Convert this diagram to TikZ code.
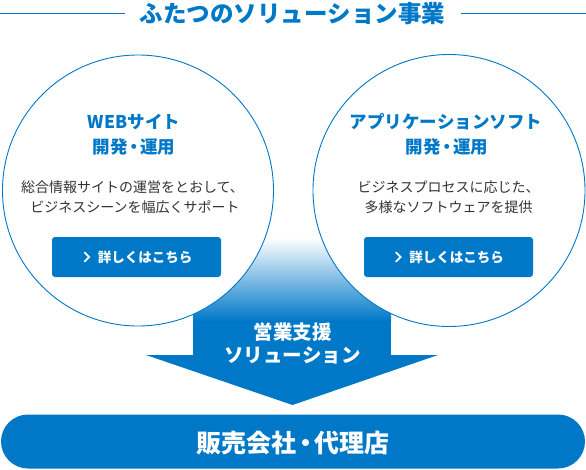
\documentclass[tikz,border=0pt]{standalone}
\usepackage{fontspec}
\setmainfont{Noto Sans CJK JP}
\usetikzlibrary{calc}
\definecolor{mainblue}{RGB}{0,120,200}
\definecolor{bodytext}{RGB}{51,51,51}
\newcommand{\tightdot}{\kern-0.13em・\kern-0.13em}
\tikzset{
  titletext/.style={inner sep=0pt, text=mainblue, font=\fontsize{23.5}{26}\selectfont\bfseries},
  ruleline/.style={draw=mainblue, line width=1pt},
  circlebox/.style={draw=mainblue, line width=0.9pt, fill=white},
  headtext/.style={inner sep=0pt, text=mainblue, font=\fontsize{17.5}{20}\selectfont\bfseries},
  desctext/.style={inner sep=0pt, text=bodytext, font=\fontsize{14}{17}\selectfont},
  buttonbox/.style={fill=mainblue, rounded corners=3pt, minimum width=169pt, minimum height=40pt, inner sep=0pt},
  btntext/.style={inner sep=0pt, text=white, font=\fontsize{13.5}{16}\selectfont\bfseries},
  chevron/.style={draw=white, line width=1.8pt, line cap=round, line join=miter},
  arrowtext/.style={inner sep=0pt, text=white, font=\fontsize{19.5}{22}\selectfont\bfseries},
  barbox/.style={fill=mainblue, rounded corners=27pt, minimum width=584pt, minimum height=54pt, inner sep=0pt},
  bartext/.style={inner sep=0pt, text=white, font=\fontsize{25}{28}\selectfont\bfseries},
}
\begin{document}
\begin{tikzpicture}[x=1pt,y=-1pt]
\useasboundingbox (0,0) rectangle (586,469);
% title
\node[titletext] (title) at (292.5,14) {ふたつのソリューション事業};
\coordinate (ruleLa) at (0,13);
\coordinate (ruleLb) at (125,13);
\coordinate (ruleRa) at (461,13);
\coordinate (ruleRb) at (586,13);
\draw[ruleline] (ruleLa) -- (ruleLb);
\draw[ruleline] (ruleRa) -- (ruleRb);
% arrow shaft with gradient
\shade[top color=white, bottom color=mainblue] (193,238) rectangle (391,321);
\fill[mainblue] (193,320.5) rectangle (391,356);
\coordinate (headL) at (146,355);
\coordinate (headR) at (438,355);
\coordinate (headT) at (292.5,405);
\fill[mainblue] (headL) -- (headR) -- (headT) -- cycle;
% circles
\node[circlebox, circle, minimum size=271pt] (circL) at (138,190.5) {};
\node[circlebox, circle, minimum size=272pt] (circR) at (449,190.5) {};
% left circle content
\node[headtext] (headL1) at (134,122) {WEBサイト};
\node[headtext] (headL2) at (134,147) {開発\tightdot 運用};
\node[desctext] (descL1) at (132.5,187) {総合情報サイトの運営をとおして、};
\node[desctext] (descL2) at (135,207) {ビジネスシーンを幅広くサポート};
\node[buttonbox] (btnL) at (136.5,257) {};
\node[btntext] (btnLt) at (145,257) {詳しくはこちら};
\draw[chevron] ($(btnLt.west)+(-13,-4.5)$) -- ($(btnLt.west)+(-8.5,0)$) -- ($(btnLt.west)+(-13,4.5)$);
% right circle content
\node[headtext] (headR1) at (446,122) {アプリケーションソフト};
\node[headtext] (headR2) at (447,147) {開発\tightdot 運用};
\node[desctext] (descR1) at (448.5,187) {ビジネスプロセスに応じた、};
\node[desctext] (descR2) at (448.5,207) {多様なソフトウェアを提供};
\node[buttonbox] (btnR) at (448.5,257) {};
\node[btntext] (btnRt) at (456.5,257) {詳しくはこちら};
\draw[chevron] ($(btnRt.west)+(-13,-4.5)$) -- ($(btnRt.west)+(-8.5,0)$) -- ($(btnRt.west)+(-13,4.5)$);
% arrow text
\node[arrowtext] (arrow1) at (292.5,332) {営業支援};
\node[arrowtext] (arrow2) at (292.5,355) {ソリューション};
% bottom bar
\node[barbox] (bar) at (293,441.5) {};
\node[bartext] (bartxt) at (293,443) {販売会社\tightdot 代理店};
\end{tikzpicture}
\end{document}
